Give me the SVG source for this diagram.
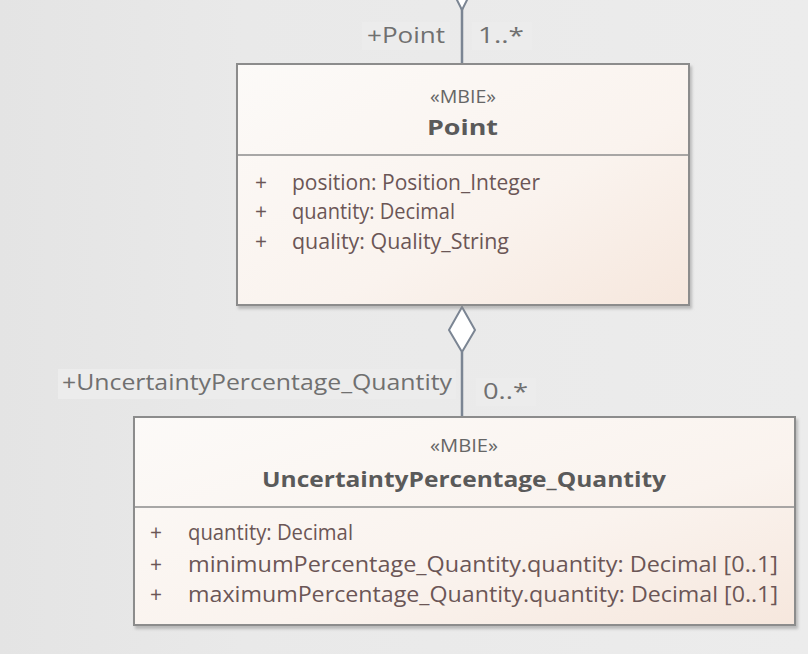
<svg xmlns="http://www.w3.org/2000/svg" width="808" height="654" viewBox="0 0 808 654">
<defs>
<linearGradient id="bg" x1="0" y1="0" x2="1" y2="0">
<stop offset="0" stop-color="#e4e4e4"/><stop offset="0.3" stop-color="#e9e9e9"/><stop offset="1" stop-color="#ececec"/>
</linearGradient>
<linearGradient id="box" x1="0" y1="0" x2="1" y2="1">
<stop offset="0" stop-color="#fcfaf8"/><stop offset="0.6" stop-color="#faf3ee"/><stop offset="1" stop-color="#f6e7dd"/>
</linearGradient>
<filter id="sh" x="-5%" y="-5%" width="110%" height="115%">
<feDropShadow dx="2" dy="3" stdDeviation="1.5" flood-color="#888" flood-opacity="0.5"/>
</filter>
<style>
.frame{fill:url(#box);stroke:#8c8c8c;stroke-width:2;filter:url(#sh)}
.sep{stroke:#8c8c8c;stroke-width:1.5}
.st{font-family:"Open Sans","Liberation Sans",sans-serif;font-size:19px;fill:#666}
.nm{font-family:"Open Sans","Liberation Sans",sans-serif;font-size:22px;font-weight:bold;fill:#5a5a5a}
.at{font-family:"Open Sans","Liberation Sans",sans-serif;font-size:21px;fill:#6b5656}
.lb{font-family:"Open Sans","Liberation Sans",sans-serif;font-size:21px;fill:#707070}
.lbg{fill:#ececec}
.ln{stroke:#7b8593;stroke-width:2.5;fill:none}
.dm{stroke:#7b8593;stroke-width:2;fill:#fff}
</style>
</defs>
<rect width="808" height="654" fill="url(#bg)"/>
<g id="connectors">
<rect class="lbg" x="362" y="22" width="88" height="28"/>
<rect class="lbg" x="472" y="22" width="60" height="28"/>
<rect class="lbg" x="58" y="369" width="398" height="30"/>
<rect class="lbg" x="476" y="378" width="60" height="28"/>
<line class="ln" x1="462" y1="0" x2="462" y2="64"/>
<path class="dm" d="M456,-2 L462,10 L468,-2"/>
<line class="ln" x1="462" y1="352" x2="462" y2="417"/>
<path class="dm" d="M462,307 L475,330 L462,352 L449,330 Z"/>
<text class="lb" x="367" y="43" textLength="78" lengthAdjust="spacingAndGlyphs">+Point</text>
<text class="lb" x="478" y="43" textLength="46" lengthAdjust="spacingAndGlyphs">1..*</text>
<text class="lb" x="62" y="390" textLength="390" lengthAdjust="spacingAndGlyphs">+UncertaintyPercentage_Quantity</text>
<text class="lb" x="483" y="399" textLength="45" lengthAdjust="spacingAndGlyphs">0..*</text>
</g>
<g id="Point">
<rect class="frame" x="237" y="64" width="452" height="241"/>
<line class="sep" x1="237" y1="155" x2="689" y2="155"/>
<text class="st" x="430" y="103" textLength="66" lengthAdjust="spacingAndGlyphs">«MBIE»</text>
<text class="nm" x="427" y="135" textLength="71" lengthAdjust="spacingAndGlyphs">Point</text>
<text class="at" x="255" y="190">+</text><text class="at" x="292" y="190" textLength="248" lengthAdjust="spacingAndGlyphs">position: Position_Integer</text>
<text class="at" x="255" y="219">+</text><text class="at" x="292" y="219" textLength="163" lengthAdjust="spacingAndGlyphs">quantity: Decimal</text>
<text class="at" x="255" y="249">+</text><text class="at" x="292" y="249" textLength="217" lengthAdjust="spacingAndGlyphs">quality: Quality_String</text>
</g>
<g id="UncertaintyPercentage_Quantity">
<rect class="frame" x="134" y="417" width="661" height="208"/>
<line class="sep" x1="134" y1="507" x2="795" y2="507"/>
<text class="st" x="430" y="452" textLength="68" lengthAdjust="spacingAndGlyphs">«MBIE»</text>
<text class="nm" x="262" y="487" textLength="404" lengthAdjust="spacingAndGlyphs">UncertaintyPercentage_Quantity</text>
<text class="at" x="150" y="540">+</text><text class="at" x="188" y="540" textLength="165" lengthAdjust="spacingAndGlyphs">quantity: Decimal</text>
<text class="at" x="150" y="572">+</text><text class="at" x="188" y="572" textLength="590" lengthAdjust="spacingAndGlyphs">minimumPercentage_Quantity.quantity: Decimal [0..1]</text>
<text class="at" x="150" y="602">+</text><text class="at" x="188" y="602" textLength="590" lengthAdjust="spacingAndGlyphs">maximumPercentage_Quantity.quantity: Decimal [0..1]</text>
</g>
</svg>
